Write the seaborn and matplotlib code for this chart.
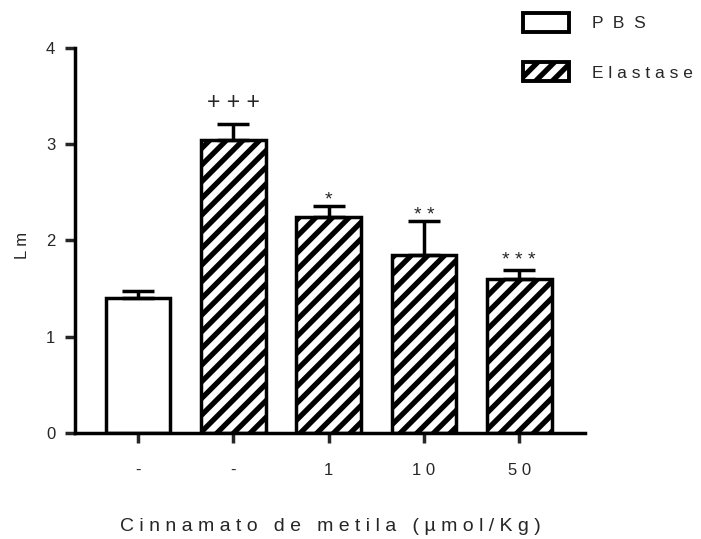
import matplotlib
matplotlib.use("Agg")
import matplotlib.pyplot as plt
import seaborn as sns
import pandas as pd
from matplotlib.patches import Patch

# data
groups = ["PBS", "Elastase", "Elastase", "Elastase", "Elastase"]
doses = ["-", "-", "1", "10", "50"]
lm_mean = [1.40, 3.04, 2.24, 1.85, 1.60]
lm_err = [0.07, 0.17, 0.12, 0.35, 0.09]
marks = ["+++", "*", "**", "***"]
mark_sizes = [16.5, 14, 14, 14]
mark_offsets = [7, -2, -2, 1]


def spaced(s, gap=" "):
    # prism-style letter spacing
    return (gap + " " + gap).join(gap.join(w) for w in s.split(" "))


sns.set_theme(style="white")
plt.rcParams["font.family"] = ["Liberation Sans", "DejaVu Sans"]
plt.rcParams["hatch.linewidth"] = 3.8
plt.rcParams["hatch.color"] = "black"

df = pd.DataFrame({"pos": range(len(doses)), "group": groups, "lm": lm_mean, "err": lm_err})

fig = plt.figure(figsize=(7.01, 5.39), dpi=100)
ax = fig.add_axes([0.107, 0.1967, 0.7275, 0.7143])

sns.barplot(data=df, x="pos", y="lm", color="white", width=0.68,
            edgecolor="black", linewidth=2.5, errorbar=None, ax=ax, saturation=1)

for patch, g in zip(ax.patches, groups):
    patch.set_facecolor("white")
    if g == "Elastase":
        patch.set_hatch("//")

ax.errorbar(df["pos"], df["lm"], yerr=[[0] * len(df), df["err"]], fmt="none",
            ecolor="black", elinewidth=2.5, capsize=11.5, capthick=2.5, zorder=1)

for i, (m, fs, off) in enumerate(zip(marks, mark_sizes, mark_offsets), start=1):
    ax.annotate(" ".join(m), (i, lm_mean[i] + lm_err[i]), xytext=(0, off),
                textcoords="offset points", ha="center", va="bottom", fontsize=fs)

ax.set_xlim(-0.661, 4.690)
ax.set_ylim(0, 4)
ax.set_yticks([0, 1, 2, 3, 4])
ax.set_xticks(range(len(doses)))
ax.set_xticklabels([" ".join(d) for d in doses])
ax.tick_params(axis="y", direction="out", length=7.2, width=2.5, pad=7, labelsize=12, left=True)
ax.tick_params(axis="x", direction="out", length=7, width=2.5, pad=14.5, labelsize=12, bottom=True)

sns.despine(ax=ax)
for side in ["left", "bottom"]:
    ax.spines[side].set_linewidth(2.5)
    ax.spines[side].set_color("black")

ax.set_xlabel(spaced("Cinnamato de metila (µmol/Kg)"), fontsize=14)
ax.xaxis.set_label_coords(0.5, -0.222)
ax.set_ylabel(spaced("Lm"), fontsize=12)
ax.yaxis.set_label_coords(-0.088, 0.488)

handles = [Patch(facecolor="white", edgecolor="black", linewidth=2.8),
           Patch(facecolor="white", edgecolor="black", linewidth=2.8, hatch="//")]
fig.legend(handles, ["P  B  S", spaced("Elastase")], loc="upper left",
           bbox_to_anchor=(0.746, 0.976), frameon=False, borderpad=0, borderaxespad=0,
           handlelength=2.65, handleheight=1.3, handletextpad=1.35, labelspacing=1.75,
           fontsize=12.5)

fig.savefig("out.png", dpi=100)
